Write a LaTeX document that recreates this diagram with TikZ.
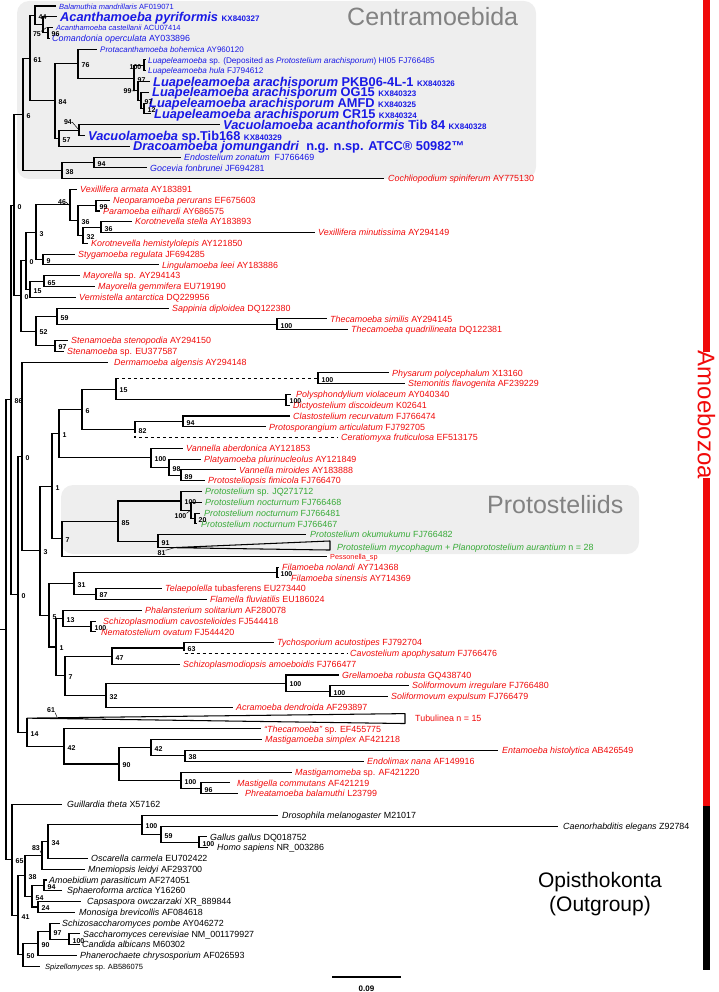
\documentclass[tikz,border=0pt]{standalone}
\usepackage{fontspec}
\setmainfont{Liberation Sans}
\definecolor{cblue}{RGB}{25,25,230}
\definecolor{cred}{RGB}{240,10,10}
\definecolor{cgreen}{RGB}{55,170,55}
\definecolor{cgray}{RGB}{130,130,130}
\definecolor{boxgray}{RGB}{238,238,238}
\newcommand{\Nd}[3]{\coordinate (#1) at (#2,#3);}
\newcommand{\Ed}[2]{\draw[brn] (#1) |- (#2);}
\newcommand{\Lf}[6]{\coordinate (#1) at (#2,#3); \node[lfl,#5] (t#1) at (#4,#3) {#6};}
\newcommand{\Bs}[2]{\node[bsl] (b#1) at (#1) {#2};}
\begin{document}
\begin{tikzpicture}[x=1pt,y=-1pt,
  brn/.style={line width=1.05pt},
  lfl/.style={anchor=base west, inner sep=0pt, font=\fontsize{8.9}{9}\selectfont, yshift=-3.2pt},
  big/.style={font=\bfseries\fontsize{12.8}{13}\selectfont, yshift=-1.4pt},
  bsl/.style={anchor=west, inner sep=0pt, xshift=3.5pt, yshift=-1.5pt, font=\bfseries\fontsize{7}{7}\selectfont},
  bsa/.style={inner sep=0pt, font=\bfseries\fontsize{7}{7}\selectfont},
  sb/.style={text=cblue}, sr/.style={text=cred}, sg/.style={text=cgreen}, sk/.style={text=black}]
\useasboundingbox (0,0) rectangle (719,992);
% group boxes
\fill[boxgray, rounded corners=12pt] (17,1) rectangle (536,179);
\fill[boxgray, rounded corners=12pt] (61,485) rectangle (639,554);
\node[anchor=base west, text=cgray, font=\fontsize{25}{25}\selectfont, inner sep=0pt] (cent) at (347,26) {Centramoebida};
\node[anchor=base west, text=cgray, font=\fontsize{25}{25}\selectfont, inner sep=0pt] (prot) at (487,513) {Protosteliids};
% side bar
\fill[cred] (703,0) rectangle (710,352);
\fill[cred] (703,478) rectangle (710,806);
\fill[black] (703,806) rectangle (710,970);
\node[rotate=-90, text=cred, font=\fontsize{24}{24}\selectfont, inner sep=0pt] (amoeb) at (706.5,415) {Amoebozoa};
\node[font=\fontsize{21}{24}\selectfont, align=center, inner sep=0pt] (opis) at (600,894) {Opisthokonta\\(Outgroup)};
% scale bar
\coordinate (sb1) at (332,977); \coordinate (sb2) at (401,977);
\draw[line width=2.6pt] (sb1) -- (sb2);
\node[font=\bfseries\fontsize{8}{8}\selectfont, inner sep=0pt] (sbl) at (366.5,989) {0.09};

\begin{scope}[y=-10.79pt, yshift=4.79pt]
% ---------- internal nodes
\Nd{n96}{48}{3.5} \Nd{n75}{43}{2.75} \Nd{n44}{35}{1.875}
\Nd{n100L}{144}{6.5} \Nd{nX12}{144}{10.5} \Nd{nX97b}{141}{9.75} \Nd{nX99}{138}{8.875}
\Nd{n97a}{134}{7.6875} \Nd{n76}{78}{6.34375}
\Nd{n94V}{79}{12.5} \Nd{n57}{59}{13.25} \Nd{n84}{55}{9.796875} \Nd{n61}{30}{5.8359}
\Nd{n94EG}{94}{15.5} \Nd{n38}{62}{16.25} \Nd{n6}{23}{11.043}
\Nd{n99NP}{96}{19.5} \Nd{n36b}{101}{21.5} \Nd{n32}{83}{22.25} \Nd{n36a}{78}{20.875}
\Nd{n46}{70}{19.4375} \Nd{n9}{43}{24.5} \Nd{n3}{36}{21.969}
\Nd{n65M}{44}{26.5} \Nd{n15}{30}{27.25} \Nd{n0c}{26}{24.609}
\Nd{n100T}{277}{30.5} \Nd{n59S}{57}{29.75} \Nd{n97S}{55}{32.5} \Nd{n52}{36}{31.125}
\Nd{n0d}{21}{27.867} \Nd{n0b}{14}{19.455}
\Nd{n100PS}{318}{35.5} \Nd{n100PD}{286}{37.5} \Nd{n15P}{116}{36.5}
\Nd{n94C}{183}{39.5} \Nd{n82}{135}{40.25} \Nd{n6P}{82}{38.375}
\Nd{n89}{181}{44.5} \Nd{n98}{169}{43.75} \Nd{n100V}{151}{42.875} \Nd{n1a}{59}{40.625}
\Nd{n20}{195}{48.5} \Nd{n100b}{191}{47.75} \Nd{n100a}{181}{46.875} \Nd{n91}{158}{50.6}
\Nd{n85}{118}{48.7375} \Nd{n7}{62}{50.369} \Nd{n1b}{52}{45.497}
\Nd{n100F}{277}{53.5} \Nd{n87}{96}{55.5} \Nd{n31}{74}{54.5}
\Nd{n100SN}{91}{58.5} \Nd{n13}{63}{57.75} \Nd{n63}{184}{60.5} \Nd{n47}{112}{61.25}
\Nd{n100S}{330}{64.5} \Nd{n100G}{286}{63.75} \Nd{n32b}{106}{64.875} \Nd{n7b}{65}{63.0625}
\Nd{n1c}{56}{60.406} \Nd{n5}{49}{57.453} \Nd{n3b}{40}{51.475} \Nd{n0f}{22}{42.738}
\Nd{n38E}{185}{70.5} \Nd{n42b}{151}{69.75} \Nd{n96M}{201}{73.5} \Nd{n100M}{181}{72.75}
\Nd{n90}{119}{71.25} \Nd{n42a}{64}{69.625} \Nd{n14}{27}{68.3125}
\Nd{n0e}{18}{55.525} \Nd{n86}{11}{37.49}
\Nd{nGH}{199}{78.5} \Nd{n59}{161}{77.75} \Nd{n100D}{142}{76.875} \Nd{n34}{48}{78.4375}
\Nd{n83}{42}{79.719} \Nd{n94O}{44}{82.5} \Nd{n24}{38}{84.5} \Nd{n54}{32}{83.5}
\Nd{n38O}{25}{81.609} \Nd{n100SC}{69}{87.5} \Nd{n97O}{50}{86.75} \Nd{n90O}{38}{87.875}
\Nd{n50}{23}{88.9375} \Nd{n41}{18}{85.273} \Nd{n65}{12}{80.137}
\Nd{root}{6}{58.81} \Nd{rstub}{0}{58.81}
% ---------- leaves
\Lf{l1}{56}{1}{59}{sb,font=\fontsize{7.5}{8}\selectfont}{\textit{Balamuthia mandrillaris} AF019071}
\Lf{l2}{57}{2}{60}{sb,big}{\textit{Acanthamoeba pyriformis} {\fontsize{8}{8}\selectfont KX840327}}
\Lf{l3}{53}{3}{56}{sb,font=\fontsize{7.5}{8}\selectfont}{\textit{Acanthamoeba castellanii} ACU07414}
\Lf{l4}{50}{4}{52}{sb}{\textit{Comandonia operculata} AY033896}
\Lf{l5}{97}{5}{100}{sb,font=\fontsize{8}{8}\selectfont}{\textit{Protacanthamoeba bohemica} AY960120}
\Lf{l6}{146}{6}{148}{sb,font=\fontsize{8.2}{8}\selectfont}{\textit{Luapeleamoeba} sp. (Deposited as \textit{Protostelium arachisporum}) HI05 FJ766485}
\Lf{l7}{146}{7}{148}{sb,font=\fontsize{8.2}{8}\selectfont}{\textit{Luapeleamoeba hula} FJ794612}
\Lf{l8}{150}{8}{153}{sb,big}{\textit{Luapeleamoeba arachisporum} PKB06-4L-1 {\fontsize{8}{8}\selectfont KX840326}}
\Lf{l9}{149}{9}{152}{sb,big}{\textit{Luapeleamoeba arachisporum} OG15 {\fontsize{8}{8}\selectfont KX840323}}
\Lf{l10}{146.5}{10}{149}{sb,big}{\textit{Luapeleamoeba arachisporum} AMFD {\fontsize{8}{8}\selectfont KX840325}}
\Lf{l11}{151}{11}{154}{sb,big}{\textit{Luapeleamoeba arachisporum} CR15 {\fontsize{8}{8}\selectfont KX840324}}
\Lf{l12}{220}{12}{223}{sb,big}{\textit{Vacuolamoeba acanthoformis} Tib 84 {\fontsize{8}{8}\selectfont KX840328}}
\Lf{l13}{85}{13}{88}{sb,big}{\textit{Vacuolamoeba} sp.Tib168 {\fontsize{8}{8}\selectfont KX840329}}
\Lf{l14}{130}{14}{133}{sb,big}{\textit{Dracoamoeba jomungandri}\ \ n.g. n.sp. ATCC® 50982™}
\Lf{l15}{181}{15}{184}{sb}{\textit{Endostelium zonatum}\ \ FJ766469}
\Lf{l16}{147}{16}{150}{sb}{\textit{Gocevia fonbrunei} JF694281}
\Lf{l17}{384}{17}{388}{sr}{\textit{Cochliopodium spiniferum} AY775130}
\Lf{l18}{77}{18}{80}{sr}{\textit{Vexillifera armata} AY183891}
\Lf{l19}{110}{19}{113}{sr}{\textit{Neoparamoeba perurans} EF675603}
\Lf{l20}{100}{20}{103}{sr}{\textit{Paramoeba eilhardi} AY686575}
\Lf{l21}{132}{21}{135}{sr}{\textit{Korotnevella stella} AY183893}
\Lf{l22}{315}{22}{318}{sr}{\textit{Vexillifera minutissima} AY294149}
\Lf{l23}{88}{23}{91}{sr}{\textit{Korotnevella hemistylolepis} AY121850}
\Lf{l24}{75}{24}{78}{sr}{\textit{Stygamoeba regulata} JF694285}
\Lf{l25}{159}{25}{162}{sr}{\textit{Lingulamoeba leei} AY183886}
\Lf{l26}{80}{26}{83}{sr}{\textit{Mayorella} sp. AY294143}
\Lf{l27}{95}{27}{98}{sr}{\textit{Mayorella gemmifera} EU719190}
\Lf{l28}{76}{28}{79}{sr}{\textit{Vermistella antarctica} DQ229956}
\Lf{l29}{169}{29}{172}{sr}{\textit{Sappinia diploidea} DQ122380}
\Lf{l30}{327}{30}{330}{sr}{\textit{Thecamoeba similis} AY294145}
\Lf{l31}{348}{31}{351}{sr}{\textit{Thecamoeba quadrilineata} DQ122381}
\Lf{l32}{68}{32}{71}{sr}{\textit{Stenamoeba stenopodia} AY294150}
\Lf{l33}{64}{33}{67}{sr}{\textit{Stenamoeba} sp. EU377587}
\Lf{l34}{108}{34}{114}{sr}{\textit{Dermamoeba algensis} AY294148}
\Lf{l35}{389}{35}{392}{sr}{\textit{Physarum polycephalum} X13160}
\Lf{l36}{405}{36}{408}{sr}{\textit{Stemonitis flavogenita} AF239229}
\Lf{l37}{291}{37}{296}{sr}{\textit{Polysphondylium violaceum} AY040340}
\Lf{l38}{290}{38}{293}{sr}{\textit{Dictyostelium discoideum} K02641}
\Lf{l39}{290}{39}{293}{sr}{\textit{Clastostelium recurvatum} FJ766474}
\Lf{l40}{266}{40}{269}{sr}{\textit{Protosporangium articulatum} FJ792705}
\Lf{l41}{338}{41}{341}{sr}{\textit{Ceratiomyxa fruticulosa} EF513175}
\Lf{l42}{183}{42}{186}{sr}{\textit{Vannella aberdonica} AY121853}
\Lf{l43}{201}{43}{204}{sr}{\textit{Platyamoeba plurinucleolus} AY121849}
\Lf{l44}{236}{44}{239}{sr}{\textit{Vannella miroides} AY183888}
\Lf{l45}{205}{45}{208}{sr}{\textit{Protosteliopsis fimicola} FJ766470}
\Lf{l46}{202}{46}{205}{sg}{\textit{Protostelium} sp. JQ271712}
\Lf{l47}{202}{47}{205}{sg}{\textit{Protostelium nocturnum} FJ766468}
\Lf{l48}{200}{48}{204}{sg}{\textit{Protostelium nocturnum} FJ766481}
\Lf{l49}{197}{49}{201}{sg}{\textit{Protostelium nocturnum} FJ766467}
\Lf{l50}{306}{50}{310}{sg}{\textit{Protostelium okumukumu} FJ766482}
\Lf{l51}{173}{51.2}{337}{sg}{\textit{Protostelium mycophagum} + \textit{Planoprotostelium aurantium} n = 28}
\Lf{l52}{327}{52}{330}{sr,font=\fontsize{7.3}{8}\selectfont}{Pessonella\_sp}
\Lf{l53}{279}{53}{282}{sr}{\textit{Filamoeba nolandi} AY714368}
\Lf{l54}{279}{54}{291}{sr}{\textit{Filamoeba sinensis} AY714369}
\Lf{l55}{162}{55}{165}{sr}{\textit{Telaepolella} tubasferens EU273440}
\Lf{l56}{207}{56}{210}{sr}{\textit{Flamella fluviatilis} EU186024}
\Lf{l57}{142}{57}{145}{sr}{\textit{Phalansterium solitarium} AF280078}
\Lf{l58}{96}{58}{103}{sr}{\textit{Schizoplasmodium cavostelioides} FJ544418}
\Lf{l59}{96}{59}{101}{sr}{\textit{Nematostelium ovatum} FJ544420}
\Lf{l60}{274}{60}{277}{sr}{\textit{Tychosporium acutostipes} FJ792704}
\Lf{l61}{347}{61}{350}{sr}{\textit{Cavostelium apophysatum} FJ766476}
\Lf{l62}{180}{62}{183}{sr}{\textit{Schizoplasmodiopsis amoeboidis} FJ766477}
\Lf{l63}{339}{63}{342}{sr}{\textit{Grellamoeba robusta} GQ438740}
\Lf{l64}{409}{64}{412}{sr}{\textit{Soliformovum irregulare} FJ766480}
\Lf{l65}{388}{65}{391}{sr}{\textit{Soliformovum expulsum} FJ766479}
\Lf{l66}{233}{66}{236}{sr}{\textit{Acramoeba dendroida} AF293897}
\Lf{l67}{27}{67}{415}{sr}{Tubulinea n = 15}
\Lf{l68}{261}{68}{264}{sr}{\textit{“Thecamoeba”} sp. EF455775}
\Lf{l69}{262}{69}{265}{sr}{\textit{Mastigamoeba simplex} AF421218}
\Lf{l70}{498}{70}{502}{sr}{\textit{Entamoeba histolytica} AB426549}
\Lf{l71}{364}{71}{367}{sr}{\textit{Endolimax nana} AF149916}
\Lf{l72}{292}{72}{295}{sr}{\textit{Mastigamomeba} sp. AF421220}
\Lf{l73}{230}{73}{237}{sr}{\textit{Mastigella commutans} AF421219}
\Lf{l74}{238}{74}{245}{sr}{\textit{Phreatamoeba balamuthi} L23799}
\Lf{l75}{62}{75}{67}{sk}{\textit{Guillardia theta} X57162}
\Lf{l76}{278}{76}{282}{sk}{\textit{Drosophila melanogaster} M21017}
\Lf{l77}{558}{77}{563}{sk}{\textit{Caenorhabditis elegans} Z92784}
\Lf{l78}{207}{78}{210}{sk}{\textit{Gallus gallus} DQ018752}
\Lf{l79}{208}{79}{217}{sk}{\textit{Homo sapiens} NR\_003286}
\Lf{l80}{88}{80}{91}{sk}{\textit{Oscarella carmela} EU702422}
\Lf{l81}{85}{81}{88}{sk}{\textit{Mnemiopsis leidyi} AF293700}
\Lf{l82}{47}{82}{49}{sk}{\textit{Amoebidium parasiticum} AF274051}
\Lf{l83}{62}{83}{67}{sk}{\textit{Sphaeroforma arctica} Y16260}
\Lf{l84}{81}{84}{87}{sk}{\textit{Capsaspora owczarzaki} XR\_889844}
\Lf{l85}{75}{85}{79}{sk}{\textit{Monosiga brevicollis} AF084618}
\Lf{l86}{60}{86}{62}{sk}{\textit{Schizosaccharomyces pombe} AY046272}
\Lf{l87}{80}{87}{83}{sk}{\textit{Saccharomyces cerevisiae} NM\_001179927}
\Lf{l88}{80}{88}{82}{sk}{\textit{Candida albicans} M60302}
\Lf{l89}{77}{89}{80}{sk}{\textit{Phanerochaete chrysosporium} AF026593}
\Lf{l90}{40}{90}{45}{sk,font=\fontsize{7.5}{8}\selectfont}{\textit{Spizellomyces} sp. AB586075}
% ---------- edges
\Ed{n44}{l1} \Ed{n44}{n75} \Ed{n75}{l2} \Ed{n75}{n96} \Ed{n96}{l3} \Ed{n96}{l4}
\Ed{n61}{n44} \Ed{n61}{n84} \Ed{n84}{n76} \Ed{n84}{n57}
\Ed{n76}{l5} \Ed{n76}{n97a} \Ed{n97a}{n100L} \Ed{n97a}{nX99}
\Ed{n100L}{l6} \Ed{n100L}{l7} \Ed{nX99}{l8} \Ed{nX99}{nX97b}
\Ed{nX97b}{l9} \Ed{nX97b}{nX12} \Ed{nX12}{l10} \Ed{nX12}{l11}
\Ed{n57}{n94V} \Ed{n57}{l14} \Ed{n94V}{l12} \Ed{n94V}{l13}
\Ed{n6}{n61} \Ed{n6}{n38} \Ed{n38}{n94EG} \Ed{n38}{l17} \Ed{n94EG}{l15} \Ed{n94EG}{l16}
\Ed{n0b}{n6} \Ed{n0b}{n0d} \Ed{n0d}{n0c} \Ed{n0d}{n52} \Ed{n0c}{n3} \Ed{n0c}{n15}
\Ed{n3}{n46} \Ed{n3}{n9} \Ed{n46}{l18} \Ed{n46}{n36a} \Ed{n36a}{n99NP} \Ed{n36a}{n32}
\Ed{n99NP}{l19} \Ed{n99NP}{l20} \Ed{n32}{n36b} \Ed{n32}{l23} \Ed{n36b}{l21} \Ed{n36b}{l22}
\Ed{n9}{l24} \Ed{n9}{l25} \Ed{n15}{n65M} \Ed{n15}{l28} \Ed{n65M}{l26} \Ed{n65M}{l27}
\Ed{n52}{n59S} \Ed{n52}{n97S} \Ed{n59S}{l29} \Ed{n59S}{n100T} \Ed{n100T}{l30} \Ed{n100T}{l31}
\Ed{n97S}{l32} \Ed{n97S}{l33}
\Ed{n86}{n0b} \Ed{n86}{n0e} \Ed{n0e}{n0f} \Ed{n0e}{n14}
\Ed{n0f}{l34} \Ed{n0f}{n3b} \Ed{n3b}{n1b} \Ed{n3b}{n5}
\Ed{n1b}{n1a} \Ed{n1b}{n7} \Ed{n1a}{n6P} \Ed{n1a}{n100V}
\Ed{n6P}{n15P} \Ed{n6P}{n82}
\draw[brn] (n15P) -- (n15P |- n100PS); \draw[brn,dashed] (n15P |- n100PS) -- (n100PS);
\Ed{n15P}{n100PD}
\Ed{n100PS}{l35} \Ed{n100PS}{l36} \Ed{n100PD}{l37} \Ed{n100PD}{l38}
\Ed{n82}{n94C} \draw[brn,dashed] (n82) |- (l41);
\Ed{n94C}{l39} \Ed{n94C}{l40}
\Ed{n100V}{l42} \Ed{n100V}{n98} \Ed{n98}{l43} \Ed{n98}{n89} \Ed{n89}{l44} \Ed{n89}{l45}
\Ed{n7}{n85} \Ed{n7}{l52} \Ed{n85}{n100a} \Ed{n85}{n91}
\Ed{n100a}{l46} \Ed{n100a}{n100b} \Ed{n100b}{l47} \Ed{n100b}{n20} \Ed{n20}{l48} \Ed{n20}{l49}
\Ed{n91}{l50} \Ed{n91}{l51}
\draw[brn, line join=round] (l51) -- (330,50.58) -- (330,51.42) -- cycle;
\Ed{n5}{n31} \Ed{n5}{n1c} \Ed{n31}{n100F} \Ed{n31}{n87}
\Ed{n100F}{l53} \Ed{n100F}{l54} \Ed{n87}{l55} \Ed{n87}{l56}
\Ed{n1c}{n13} \Ed{n1c}{n7b} \Ed{n13}{l57} \Ed{n13}{n100SN} \Ed{n100SN}{l58} \Ed{n100SN}{l59}
\Ed{n7b}{n47} \Ed{n7b}{n32b} \Ed{n47}{n63} \Ed{n47}{l62}
\Ed{n63}{l60} \draw[brn,dashed] (n63) |- (l61);
\Ed{n32b}{n100G} \Ed{n32b}{l66} \Ed{n100G}{l63} \Ed{n100G}{n100S} \Ed{n100S}{l64} \Ed{n100S}{l65}
\Ed{n14}{l67}
\draw[brn, line join=round] (l67) -- (405,66.58) -- (405,67.5) -- cycle;
\Ed{n14}{n42a} \Ed{n42a}{l68} \Ed{n42a}{n90} \Ed{n90}{n42b} \Ed{n90}{n100M}
\Ed{n42b}{l69} \Ed{n42b}{n38E} \Ed{n38E}{l70} \Ed{n38E}{l71}
\Ed{n100M}{l72} \Ed{n100M}{n96M} \Ed{n96M}{l73} \Ed{n96M}{l74}
\draw[brn] (rstub) -- (root);
\Ed{root}{n86} \Ed{root}{n65}
\Ed{n65}{l75} \Ed{n65}{n41} \Ed{n41}{n38O} \Ed{n41}{n50}
\Ed{n38O}{n83} \Ed{n38O}{n54} \Ed{n83}{n34} \Ed{n83}{l81} \Ed{n34}{n100D} \Ed{n34}{l80}
\Ed{n100D}{l76} \Ed{n100D}{n59} \Ed{n59}{l77} \Ed{n59}{nGH} \Ed{nGH}{l78} \Ed{nGH}{l79}
\Ed{n54}{n94O} \Ed{n54}{n24} \Ed{n94O}{l82} \Ed{n94O}{l83} \Ed{n24}{l84} \Ed{n24}{l85}
\Ed{n50}{n90O} \Ed{n50}{l90} \Ed{n90O}{n97O} \Ed{n90O}{l89}
\Ed{n97O}{l86} \Ed{n97O}{n100SC} \Ed{n100SC}{l87} \Ed{n100SC}{l88}
% ---------- support values
\Bs{n44}{44} \Bs{n96}{96} \Bs{n61}{61} \Bs{n97a}{97} \Bs{nX97b}{97} \Bs{nX12}{12}
\Bs{n76}{76} \Bs{n84}{84} \Bs{n57}{57} \Bs{n6}{6} \Bs{n38}{38} \Bs{n94EG}{94}
\node[bsl, anchor=east, xshift=-6pt] (bn100L) at (n100L) {100};
\Bs{n0b}{0} \Bs{n99NP}{99} \Bs{n36a}{36} \Bs{n32}{32} \Bs{n36b}{36} \Bs{n3}{3} \Bs{n9}{9}
\Bs{n65M}{65} \Bs{n15}{15} \Bs{n0c}{0} \Bs{n0d}{0} \Bs{n59S}{59} \Bs{n100T}{100} \Bs{n52}{52} \Bs{n97S}{97}
\Bs{n86}{86} \Bs{n15P}{15} \Bs{n100PS}{100} \Bs{n100PD}{100} \Bs{n6P}{6} \Bs{n1a}{1} \Bs{n94C}{94} \Bs{n82}{82}
\Bs{n0f}{0} \Bs{n100V}{100} \Bs{n98}{98} \Bs{n89}{89} \Bs{n1b}{1} \Bs{n100a}{100} \Bs{n20}{20}
\Bs{n85}{85} \Bs{n91}{91} \Bs{n7}{7} \Bs{n3b}{3} \Bs{n100F}{100} \Bs{n31}{31} \Bs{n87}{87} \Bs{n0e}{0}
\Bs{n5}{5} \Bs{n13}{13} \Bs{n100SN}{100} \Bs{n1c}{1} \Bs{n63}{63} \Bs{n47}{47} \Bs{n7b}{7}
\Bs{n100G}{100} \Bs{n100S}{100} \Bs{n32b}{32} \Bs{n14}{14} \Bs{n42a}{42} \Bs{n42b}{42} \Bs{n38E}{38}
\Bs{n90}{90} \Bs{n100M}{100} \Bs{n96M}{96}
\Bs{n65}{65} \Bs{n100D}{100} \Bs{n59}{59} \Bs{nGH}{100} \Bs{n34}{34} \Bs{n38O}{38}
\Bs{n94O}{94} \Bs{n54}{54} \Bs{n24}{24} \Bs{n41}{41} \Bs{n97O}{97} \Bs{n100SC}{100} \Bs{n90O}{90} \Bs{n50}{50}
\end{scope}
% ---------- support values with leader lines
\node[bsa] (b75) at (37,34) {75}; \coordinate (e75) at (46.5,27.5); \draw[line width=0.5pt] (b75.north east) -- (e75);
\node[bsa] (b99) at (127.5,91) {99}; \coordinate (e99) at (138,90.5); \draw[line width=0.5pt] (b99.east) -- (e99);
\node[bsa] (b94V) at (68,122) {94}; \coordinate (e94) at (79,130); \draw[line width=0.5pt] (b94V.east) -- (e94);
\node[bsa] (b46) at (62,202) {46}; \coordinate (e46) at (70,206); \draw[line width=0.5pt] (b46.east) -- (e46);
\node[bsa] (b100b) at (180.5,516) {100}; \coordinate (e100b) at (191,510); \draw[line width=0.5pt] (b100b.north east) -- (e100b);
\node[bsa] (b81) at (161.5,553) {81}; \coordinate (e81) at (175,547.5); \draw[line width=0.5pt] (b81.north east) -- (e81);
\node[bsa] (b61T) at (51,710) {61}; \coordinate (e61) at (57,717); \draw[line width=0.5pt] (b61T.south east) -- (e61);
\node[bsa] (b83) at (36,848) {83}; \coordinate (e83) at (42,855); \draw[line width=0.5pt] (b83.south east) -- (e83);
\end{tikzpicture}
\end{document}
